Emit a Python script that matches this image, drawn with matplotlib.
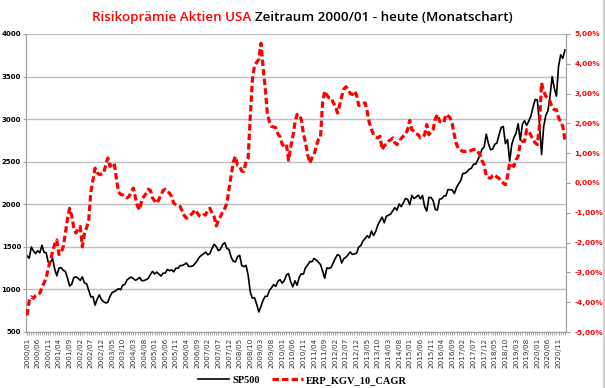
import numpy as np
import matplotlib
matplotlib.use("Agg")
import matplotlib.pyplot as plt
from matplotlib.lines import Line2D
from matplotlib.ticker import FuncFormatter, MultipleLocator

# monthly data 2000/01 .. 2021/02
START_YEAR = 2000
SP500 = [
    1394.46, 1366.42, 1498.58, 1452.43, 1420.60, 1454.60, 1430.83, 1517.68, 1436.51, 1429.40, 1314.95, 1320.28,
    1366.01, 1239.94, 1160.33, 1249.46, 1255.82, 1224.42, 1211.23, 1133.58, 1040.94, 1059.78, 1139.45, 1148.08,
    1130.20, 1106.73, 1147.39, 1076.92, 1067.14, 989.82, 911.62, 916.07, 815.28, 885.76, 936.31, 879.82,
    855.70, 841.15, 848.18, 916.92, 963.59, 974.50, 990.31, 1008.01, 995.97, 1050.71, 1058.20, 1111.92,
    1131.13, 1144.94, 1126.21, 1107.30, 1120.68, 1140.84, 1101.72, 1104.24, 1114.58, 1130.20, 1173.82, 1211.92,
    1181.27, 1203.60, 1180.59, 1156.85, 1191.50, 1191.33, 1234.18, 1220.33, 1228.81, 1207.01, 1249.48, 1248.29,
    1280.08, 1280.66, 1294.83, 1310.61, 1270.09, 1270.20, 1276.66, 1303.82, 1335.85, 1377.94, 1400.63, 1418.30,
    1438.24, 1406.82, 1420.86, 1482.37, 1530.62, 1503.35, 1455.27, 1473.99, 1526.75, 1549.38, 1481.14, 1468.36,
    1378.55, 1330.63, 1322.70, 1385.59, 1400.38, 1280.00, 1267.38, 1282.83, 1166.36, 968.75, 896.24, 903.25,
    825.88, 735.09, 797.87, 872.81, 919.14, 919.32, 987.48, 1020.62, 1057.08, 1036.19, 1095.63, 1115.10,
    1073.87, 1104.49, 1169.43, 1186.69, 1089.41, 1030.71, 1101.60, 1049.33, 1141.20, 1183.26, 1180.55, 1257.64,
    1286.12, 1327.22, 1325.83, 1363.61, 1345.20, 1320.64, 1292.28, 1218.89, 1131.42, 1253.30, 1246.96, 1257.60,
    1312.41, 1365.68, 1408.47, 1397.91, 1310.33, 1362.16, 1379.32, 1406.58, 1440.67, 1412.16, 1416.18, 1426.19,
    1498.11, 1514.68, 1569.19, 1597.57, 1630.74, 1606.28, 1685.73, 1632.97, 1681.55, 1756.54, 1805.81, 1848.36,
    1782.59, 1859.45, 1872.34, 1883.95, 1923.57, 1960.23, 1930.67, 2003.37, 1972.29, 2018.05, 2067.56, 2058.90,
    1994.99, 2104.50, 2067.89, 2085.51, 2107.39, 2063.11, 2103.84, 1972.18, 1920.03, 2079.36, 2080.41, 2043.94,
    1940.24, 1932.23, 2059.74, 2065.30, 2096.95, 2098.86, 2173.60, 2170.95, 2168.27, 2126.15, 2198.81, 2238.83,
    2278.87, 2363.64, 2362.72, 2384.20, 2411.80, 2423.41, 2470.30, 2471.65, 2519.36, 2575.26, 2647.58, 2673.61,
    2823.81, 2713.83, 2640.87, 2648.05, 2705.27, 2718.37, 2816.29, 2901.52, 2913.98, 2711.74, 2760.17, 2506.85,
    2704.10, 2784.49, 2834.40, 2945.83, 2752.06, 2941.76, 2980.38, 2926.46, 2976.74, 3037.56, 3140.98, 3230.78,
    3225.52, 2954.22, 2584.59, 2912.43, 3044.31, 3100.29, 3271.12, 3500.31, 3363.00, 3269.96, 3621.63, 3756.07,
    3714.24, 3811.15,
]

# equity risk premium (CAPE based), percent
ERP = [
    -4.44, -3.95, -3.82, -3.87, -3.78, -3.74, -3.70, -3.50, -3.35, -3.19, -2.85, -2.60,
    -2.30, -2.05, -1.91, -2.40, -2.35, -2.14, -1.70, -1.20, -0.85, -1.10, -1.50, -1.68,
    -1.55, -1.46, -2.14, -1.70, -1.50, -1.24, -0.30, 0.10, 0.50, 0.35, 0.28, 0.30,
    0.33, 0.60, 0.84, 0.56, 0.62, 0.67, 0.15, -0.30, -0.38, -0.40, -0.45, -0.50,
    -0.45, -0.30, -0.17, -0.50, -0.79, -0.90, -0.55, -0.45, -0.35, -0.21, -0.25, -0.50,
    -0.60, -0.68, -0.55, -0.40, -0.25, -0.21, -0.28, -0.34, -0.45, -0.68, -0.72, -0.75,
    -0.79, -0.95, -1.10, -1.18, -1.12, -1.07, -1.00, -0.90, -1.00, -1.10, -1.13, -1.07,
    -1.07, -0.90, -0.85, -1.00, -1.13, -1.44, -1.25, -1.13, -0.95, -0.85, -0.68, -0.20,
    0.25, 0.70, 0.89, 0.60, 0.56, 0.40, 0.39, 0.72, 0.84, 2.24, 3.47, 3.95,
    4.05, 4.15, 4.69, 3.90, 3.20, 2.35, 2.05, 1.90, 1.88, 1.85, 1.65, 1.55,
    1.30, 1.23, 1.29, 0.76, 1.20, 1.55, 2.02, 2.30, 2.30, 2.13, 1.65, 1.35,
    0.95, 0.67, 0.84, 0.95, 1.23, 1.45, 1.51, 2.69, 3.08, 2.95, 2.86, 2.86,
    2.70, 2.58, 2.35, 2.60, 2.91, 3.15, 3.23, 3.14, 3.00, 2.97, 3.08, 2.95,
    2.60, 2.63, 2.66, 2.69, 2.40, 2.02, 1.80, 1.62, 1.55, 1.51, 1.57, 1.12,
    1.25, 1.30, 1.40, 1.45, 1.51, 1.35, 1.29, 1.40, 1.50, 1.57, 1.62, 1.80,
    2.10, 1.79, 1.73, 1.65, 1.62, 1.51, 1.55, 1.62, 1.96, 1.62, 1.70, 1.79,
    2.15, 2.30, 2.07, 2.04, 2.02, 2.30, 2.25, 2.19, 1.98, 1.60, 1.30, 1.14,
    1.10, 1.06, 1.06, 1.06, 1.06, 1.10, 1.12, 1.14, 1.05, 0.95, 0.75, 0.61,
    0.22, 0.18, 0.16, 0.25, 0.28, 0.20, 0.16, 0.05, 0.00, -0.06, 0.22, 0.67,
    0.60, 0.56, 0.78, 0.90, 1.34, 1.40, 1.40, 1.79, 1.73, 1.60, 1.45, 1.35,
    1.29, 1.90, 3.36, 3.08, 2.91, 2.85, 2.74, 2.52, 2.46, 2.46, 2.19, 2.05,
    1.90, 1.45,
]

MONTHS = [f"{START_YEAR + i // 12}/{i % 12 + 1:02d}" for i in range(len(SP500))]

GRID = "#bfbfbf"
RED = "#ff0000"

fig = plt.figure(figsize=(6.05, 3.88), dpi=100)
ax = fig.add_axes([26 / 605, 1 - 332 / 388, 540 / 605, 298 / 388])
ax2 = ax.twinx()

x = np.arange(len(SP500))
ax.plot(x, SP500, color="black", lw=1.2, zorder=3)
ax2.plot(x, ERP, color=RED, lw=2.3, dashes=(2.0, 1.0), zorder=3)

ax.set_xlim(-0.5, len(SP500) - 0.5)
ax.set_ylim(500, 4000)
ax.yaxis.set_major_locator(MultipleLocator(500))
ax.grid(axis="y", color=GRID, lw=1.0)
ax.set_axisbelow(True)
ax2.set_ylim(-5, 5)
ax2.yaxis.set_major_locator(MultipleLocator(1))
ax2.yaxis.set_major_formatter(FuncFormatter(lambda v, p: f"{v:.2f}%".replace(".", ",")))

ax.set_xticks(x[::5])
ax.set_xticklabels(MONTHS[::5], rotation=90, fontsize=5.2, color="#333333", family="DejaVu Sans")
ax.set_xticks(x, minor=True)
ax.tick_params(axis="x", which="both", length=2.5, color="#a0a0a0", pad=2)
ax.tick_params(axis="y", length=2, color="#a0a0a0", labelsize=5.0, pad=1.5)
for t in ax.get_yticklabels():
    t.set_fontweight("bold")
ax2.tick_params(axis="y", length=3, color="#a0a0a0", labelsize=5.3, labelcolor=RED, pad=3)
for t in ax2.get_yticklabels():
    t.set_fontweight("bold")

for a in (ax, ax2):
    a.spines["top"].set_visible(False)
    for s in ("left", "right", "bottom"):
        a.spines[s].set_color("#a0a0a0")

# legend at the bottom
handles = [
    Line2D([0], [0], color="black", lw=1.2, label="SP500"),
    Line2D([0], [0], color=RED, lw=2.3, dashes=(2.0, 1.0), label="ERP_KGV_10_CAGR"),
]
fig.legend(handles=handles, loc="center", bbox_to_anchor=(0.5, 0.02), ncol=2, frameon=False,
           prop={"family": "Liberation Serif", "weight": "bold", "size": 7.5},
           handlelength=3.0, columnspacing=1.2, handletextpad=0.3)

# two-coloured title
fig.canvas.draw()
r = fig.canvas.get_renderer()
t1 = fig.text(0, 0, "Risikoprämie Aktien USA ", color=RED, fontsize=9.6, family="Open Sans", weight="semibold")
t2 = fig.text(0, 0, "Zeitraum 2000/01 - heute (Monatschart)", color="black", fontsize=9.6,
              family="Open Sans", weight="semibold")
w1 = t1.get_window_extent(r).width
w2 = t2.get_window_extent(r).width
x0 = 302 - (w1 + w2) / 2
ty = 1 - 21 / 388
t1.set_position((x0 / 605, ty))
t2.set_position(((x0 + w1) / 605, ty))

# outer chart border on the right
fig.add_artist(Line2D([603.5 / 605, 603.5 / 605], [0, 1], color="#d0d0d0", lw=1.5))

fig.savefig("out.png", dpi=100)
